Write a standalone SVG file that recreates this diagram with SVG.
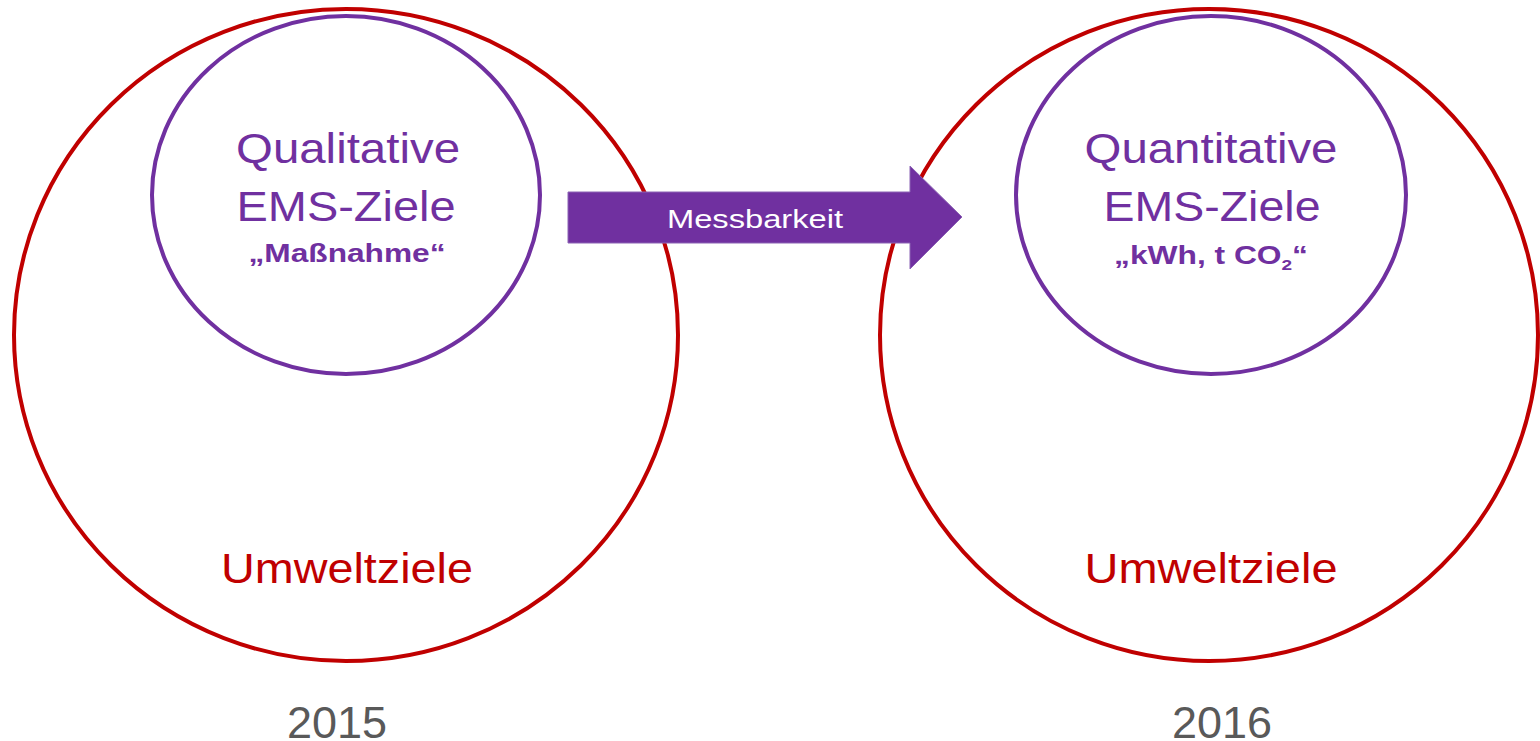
<svg xmlns="http://www.w3.org/2000/svg" width="1540" height="741" viewBox="0 0 1540 741">
<style>
.red{fill:none;stroke:#C00000;stroke-width:4}
.pur{fill:none;stroke:#7030A0;stroke-width:4}
text{font-family:"Liberation Sans",Arial,sans-serif;text-anchor:middle}
.big{font-size:42px;fill:#7030A0}
.sub{font-size:25px;font-weight:bold;fill:#7030A0}
.um{font-size:43px;fill:#C00000}
.yr{font-size:45px;fill:#595959}
.lbl{font-size:26px;fill:#ffffff}
</style>
<rect width="1540" height="741" fill="#ffffff"/>
<g id="umwelt2015">
<ellipse class="red" cx="346" cy="335" rx="332" ry="326"/>
<text class="um" x="347" y="583" textLength="252" lengthAdjust="spacingAndGlyphs">Umweltziele</text>
</g>
<g id="ems2015">
<ellipse class="pur" cx="346" cy="195" rx="194" ry="179"/>
<text class="big" x="348" y="163" textLength="224" lengthAdjust="spacingAndGlyphs">Qualitative</text>
<text class="big" x="346" y="221" textLength="219" lengthAdjust="spacingAndGlyphs">EMS-Ziele</text>
<text class="sub" x="347" y="262" textLength="197" lengthAdjust="spacingAndGlyphs">„Maßnahme“</text>
</g>
<g id="umwelt2016">
<ellipse class="red" cx="1209" cy="335" rx="329" ry="326"/>
<text class="um" x="1211" y="583" textLength="253" lengthAdjust="spacingAndGlyphs">Umweltziele</text>
</g>
<g id="ems2016">
<ellipse class="pur" cx="1211" cy="195" rx="195" ry="179"/>
<text class="big" x="1211" y="163" textLength="253" lengthAdjust="spacingAndGlyphs">Quantitative</text>
<text class="big" x="1212" y="221" textLength="217" lengthAdjust="spacingAndGlyphs">EMS-Ziele</text>
<text class="sub" transform="translate(1211,264) scale(1.27,1)" x="0" y="0">„kWh, t CO<tspan font-size="15" dy="6">2</tspan><tspan dy="-6">“</tspan></text>
</g>
<g id="year2015"><text class="yr" x="337" y="738">2015</text></g>
<g id="year2016"><text class="yr" x="1222" y="738">2016</text></g>
<g id="connectors">
<g id="arrow">
<polygon points="568,192 910,192 910,166 962,217 910,269 910,243 568,243" fill="#7030A0" stroke="#8B63B4" stroke-width="1"/>
<text class="lbl" x="755" y="228" textLength="176" lengthAdjust="spacingAndGlyphs">Messbarkeit</text>
</g>
</g>
</svg>
